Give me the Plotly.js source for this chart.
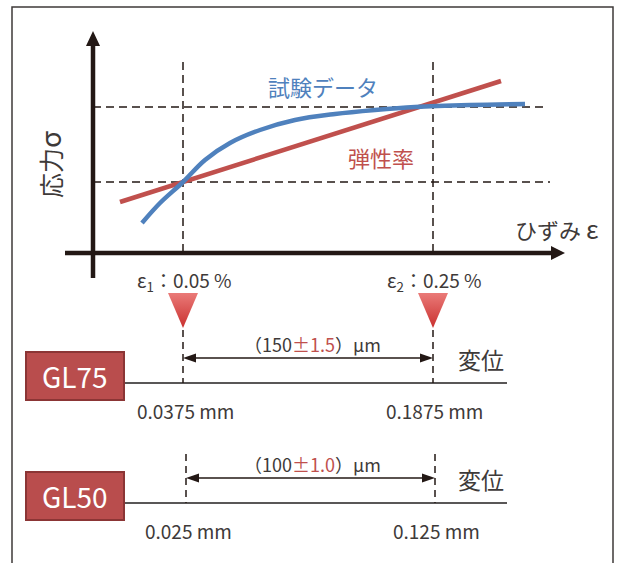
<!DOCTYPE html>
<html>
<head>
<meta charset="utf-8">
<script src="https://cdn.plot.ly/plotly-3.0.1.min.js"></script>
<style>html,body{margin:0;padding:0;background:#fff;}#chart{width:617px;height:563px;}</style>
</head>
<body>
<div id="chart"></div>
<script>
// ---- data (diagram coordinates, x → right, y → down) ----
const testCurveX = [142, 160, 183, 205, 230, 260, 295, 335, 375, 415, 470, 525];
const testCurveY = [223, 203, 182, 160, 143, 130, 120, 114, 110, 107, 105, 104];
const modulusX = [120, 501];
const modulusY = [202, 81];
const strainX = [183, 433];           // ε1, ε2 guide positions
const stressY = [182, 107];           // σ at ε1, ε2
const strainLabels = ['ε<sub>1</sub>：0.05 %', 'ε<sub>2</sub>：0.25 %'];
const gaugeNames = ['GL75', 'GL50'];
const gaugeLineY = [383, 503];
const gaugeArrowY = [358, 478];
const gaugeStartX = [183, 186];
const gaugeEndX = [433, 435];
const gaugeTopY = [330, 454];
const gaugeSpan = ['（150<span style="color:#c0504d">±1.5</span>）µm', '（100<span style="color:#c0504d">±1.0</span>）µm'];
const gaugeStartLabels = ['0.0375 mm', '0.025 mm'];
const gaugeEndLabels = ['0.1875 mm', '0.125 mm'];

const BLUE = '#4f81bd', RED = '#c0504d', INK = '#231815', GREY = '#595757';
const FONT = '"Noto Sans CJK JP", "Noto Sans", sans-serif';

const traces = [];
// elastic modulus line
traces.push({x: modulusX, y: modulusY, mode: 'lines', line: {color: RED, width: 4.5}, hoverinfo: 'skip'});
// test data curve
traces.push({x: testCurveX, y: testCurveY, mode: 'lines', line: {color: BLUE, width: 4.5, shape: 'spline', smoothing: 1}, hoverinfo: 'skip'});
// red triangles
strainX.forEach(function (sx) {
  traces.push({x: [sx - 15, sx + 15, sx, sx - 15], y: [293, 293, 328, 293], mode: 'lines', fill: 'toself',
    line: {width: 0, color: 'rgba(0,0,0,0)'},
    fillcolor: '#d8403f',
    fillgradient: {type: 'vertical', colorscale: [[0, '#c9302f'], [1, '#ea7a78']]},
    hoverinfo: 'skip'});
});

const shapes = [];
const ann = [];
// frame
shapes.push({type: 'path', path: 'M12,570 L12,7 L613,7 L613,570', line: {color: '#3e3a39', width: 1.5}});
// dashed guides
strainX.forEach(function (sx) {
  shapes.push({type: 'line', x0: sx, x1: sx, y0: 62, y1: 253, line: {color: INK, width: 1.5, dash: '8px,5px'}, layer: 'below'});
});
shapes.push({type: 'line', x0: 93, x1: 548, y0: stressY[1], y1: stressY[1], line: {color: INK, width: 1.5, dash: '8px,5px'}, layer: 'below'});
shapes.push({type: 'line', x0: 93, x1: 550, y0: stressY[0], y1: stressY[0], line: {color: INK, width: 1.5, dash: '8px,5px'}, layer: 'below'});
// axes
shapes.push({type: 'line', x0: 93, x1: 93, y0: 278, y1: 44, line: {color: INK, width: 4.5}});
shapes.push({type: 'path', path: 'M93,31 L86,46 L100,46 Z', fillcolor: INK, line: {width: 0}});
shapes.push({type: 'line', x0: 65, x1: 553, y0: 253, y1: 253, line: {color: INK, width: 4.5}});
shapes.push({type: 'path', path: 'M565,253 L551,246 L551,260 Z', fillcolor: INK, line: {width: 0}});

// gauge sections
gaugeNames.forEach(function (g, i) {
  const ly = gaugeLineY[i], ay = gaugeArrowY[i], x0 = gaugeStartX[i], x1 = gaugeEndX[i];
  shapes.push({type: 'line', x0: 124, x1: 507, y0: ly, y1: ly, line: {color: GREY, width: 2}});
  shapes.push({type: 'rect', x0: 26, x1: 124, y0: ly - 31, y1: ly + 17, fillcolor: '#b94d4d', line: {color: '#8b3535', width: 2}});
  shapes.push({type: 'line', x0: x0, x1: x0, y0: gaugeTopY[i], y1: ly, line: {color: INK, width: 1.5, dash: '7px,5px'}});
  shapes.push({type: 'line', x0: x1, x1: x1, y0: gaugeTopY[i], y1: ly, line: {color: INK, width: 1.5, dash: '7px,5px'}});
  shapes.push({type: 'line', x0: x0 + 6, x1: x1 - 6, y0: ay, y1: ay, line: {color: INK, width: 1.5}});
  shapes.push({type: 'path', path: 'M' + x0 + ',' + ay + ' L' + (x0 + 13) + ',' + (ay - 4.5) + ' L' + (x0 + 13) + ',' + (ay + 4.5) + ' Z', fillcolor: INK, line: {width: 0}});
  shapes.push({type: 'path', path: 'M' + x1 + ',' + ay + ' L' + (x1 - 13) + ',' + (ay - 4.5) + ' L' + (x1 - 13) + ',' + (ay + 4.5) + ' Z', fillcolor: INK, line: {width: 0}});

  ann.push({x: 75, y: ly - 7, text: g, font: {family: FONT, size: 28, color: '#ffffff'}});
  ann.push({x: 312, y: ay - 14, text: gaugeSpan[i], font: {family: FONT, size: 18, color: '#3e3a39'}});
  ann.push({x: 481, y: ay + 1, text: '変位', font: {family: FONT, size: 23, color: '#3e3a39'}});
  ann.push({x: x0 + 2, y: ly + 27, text: gaugeStartLabels[i], font: {family: FONT, size: 19, color: '#3e3a39'}});
  ann.push({x: x1 + 1, y: ly + 27, text: gaugeEndLabels[i], font: {family: FONT, size: 19, color: '#3e3a39'}});
});

// chart labels
ann.push({x: 323, y: 86, text: '試験データ', font: {family: FONT, size: 22, color: BLUE}});
ann.push({x: 381, y: 157, text: '弾性率', font: {family: FONT, size: 22, color: RED}});
ann.push({x: 556, y: 228, text: 'ひずみ <span style="font-size:25px">ε</span>', font: {family: FONT, size: 22, color: '#3e3a39'}});
ann.push({x: 49, y: 165, text: '応力<span style="font-size:28px">σ</span>', textangle: -90, font: {family: FONT, size: 25, color: '#3e3a39'}});
strainX.forEach(function (sx, i) {
  ann.push({x: sx + 1, y: 281, text: strainLabels[i], font: {family: FONT, size: 19, color: '#3e3a39'}});
});

ann.forEach(function (a) {
  a.xref = 'x'; a.yref = 'y'; a.showarrow = false; a.xanchor = 'center'; a.yanchor = 'middle';
});
shapes.forEach(function (s) { s.xref = 'x'; s.yref = 'y'; });

const layout = {
  width: 617, height: 563,
  margin: {l: 0, r: 0, t: 0, b: 0},
  paper_bgcolor: '#ffffff', plot_bgcolor: '#ffffff',
  showlegend: false,
  xaxis: {range: [0, 617], visible: false, fixedrange: true},
  yaxis: {range: [563, 0], visible: false, fixedrange: true},
  shapes: shapes,
  annotations: ann
};
Plotly.newPlot('chart', traces, layout, {displayModeBar: false, staticPlot: true});
</script>
</body>
</html>
